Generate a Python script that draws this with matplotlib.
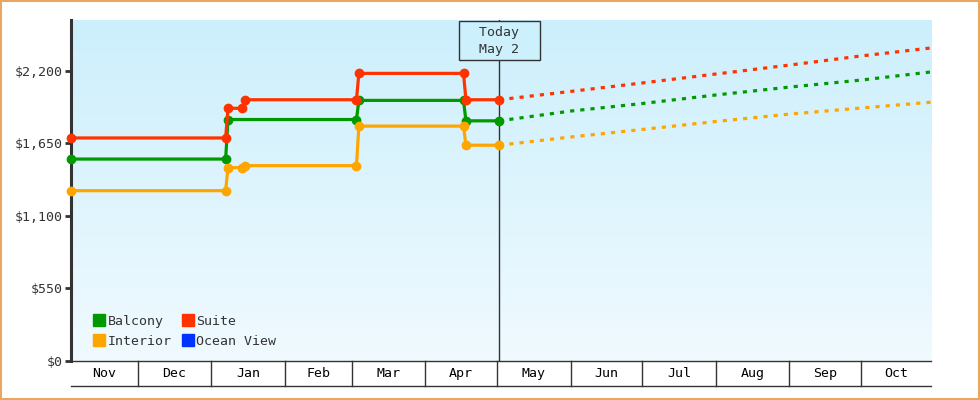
import datetime as dt

import matplotlib
matplotlib.use("Agg")
import matplotlib.pyplot as plt
import matplotlib.dates as mdates
import matplotlib.transforms as mtransforms
import numpy as np
from matplotlib.lines import Line2D
from matplotlib.patches import Rectangle

D = dt.datetime

# recorded prices (solid, with markers)
balcony_dates = [D(2022, 11, 3), D(2023, 1, 7), D(2023, 1, 8), D(2023, 3, 3), D(2023, 3, 4),
                 D(2023, 4, 17), D(2023, 4, 18), D(2023, 5, 2)]
balcony_hist = [1530, 1530, 1830, 1830, 1975, 1975, 1820, 1820]

other_dates = [D(2022, 11, 3), D(2023, 1, 7), D(2023, 1, 8), D(2023, 1, 14), D(2023, 1, 15),
               D(2023, 3, 3), D(2023, 3, 4), D(2023, 4, 17), D(2023, 4, 18), D(2023, 5, 2)]
suite_hist = [1690, 1690, 1915, 1915, 1980, 1980, 2180, 2180, 1980, 1980]
interior_hist = [1290, 1290, 1465, 1465, 1480, 1480, 1780, 1780, 1635, 1635]

# forecast (dashed)
fc_dates = [D(2023, 5, 2), D(2023, 6, 1), D(2023, 7, 1), D(2023, 8, 1), D(2023, 9, 1),
            D(2023, 10, 1), D(2023, 10, 31)]
balcony_fc = [1820, 1894, 1951, 2016, 2076, 2129, 2192]
suite_fc = [1980, 2043, 2107, 2175, 2243, 2312, 2374]
interior_fc = [1635, 1697, 1754, 1815, 1871, 1917, 1962]

yticks = [0, 550, 1100, 1650, 2200]
ytick_labels = ["$0", "$550", "$1,100", "$1,650", "$2,200"]
months = ["Nov", "Dec", "Jan", "Feb", "Mar", "Apr", "May", "Jun", "Jul", "Aug", "Sep", "Oct"]
month_starts = [D(2022, 11, 1), D(2022, 12, 1)] + [D(2023, m, 1) for m in range(1, 12)]
today = D(2023, 5, 2)

GREEN = "#009a00"
RED = "#ff3300"
ORANGE = "#ffa500"
BLUE = "#0033ff"
DARK = "#333333"
MONO = "DejaVu Sans Mono"
FS = 9.5

x0, x1 = D(2022, 11, 3), D(2023, 10, 30, 12)

fig = plt.figure(figsize=(9.8, 4), dpi=100)
ax = fig.add_axes([71 / 980, (400 - 360.7) / 400, 860 / 980, 340.7 / 400])
ax.set_xlim(x0, x1)
ax.set_ylim(0, 2585)

# background gradient
grad = np.linspace(0, 1, 256).reshape(-1, 1)
top_c = np.array([204, 239, 252]) / 255
bot_c = np.array([240, 250, 255]) / 255
img = top_c * (1 - grad[..., None]) + bot_c * grad[..., None]
img = img.reshape(256, 1, 3)
ax.imshow(img, extent=[0, 1, 0, 1], transform=ax.transAxes, aspect="auto", zorder=0)

# today line
ax.axvline(today, color=DARK, lw=1, zorder=1)

lw = 2.3
ms = 6.0
for dates, vals, c in [(balcony_dates, balcony_hist, GREEN),
                       (other_dates, interior_hist, ORANGE),
                       (other_dates, suite_hist, RED)]:
    ax.plot(dates, vals, color=c, lw=lw, marker="o", ms=ms, mec=c, zorder=3, clip_on=False)

for vals, c in [(balcony_fc, GREEN), (interior_fc, ORANGE), (suite_fc, RED)]:
    ax.plot(fc_dates, vals, color=c, lw=lw, dashes=(1.3, 1.9), zorder=2)

# today box
trans = mtransforms.blended_transform_factory(ax.transData, ax.transAxes)
ax.annotate("  Today  \n  May 2  ", xy=(mdates.date2num(today), 1.0), xycoords=trans, xytext=(0, -4.2),
            textcoords="offset points", ha="center", va="top", family=MONO, fontsize=FS,
            color=DARK, linespacing=1.4, zorder=5,
            bbox=dict(boxstyle="square,pad=0.35", fc="#ccf0fc", ec=DARK, lw=1))

# axes styling
for s in ["top", "right"]:
    ax.spines[s].set_visible(False)
ax.spines["left"].set_color(DARK)
ax.spines["left"].set_linewidth(2.2)
ax.spines["bottom"].set_color(DARK)
ax.spines["bottom"].set_linewidth(1)
ax.set_yticks(yticks)
ax.set_yticklabels(ytick_labels, family=MONO, fontsize=FS, color=DARK)
ax.tick_params(axis="y", length=4, width=2, color=DARK, pad=2)
ax.set_xticks([])

# month table under the axis
cell_h = -0.073
ax.plot([x0, x1], [cell_h, cell_h], color=DARK, lw=1, transform=trans, clip_on=False)
for m0 in month_starts[1:-1]:
    ax.plot([m0, m0], [0, cell_h], color=DARK, lw=1, transform=trans, clip_on=False)
for i, name in enumerate(months):
    a = max(mdates.date2num(month_starts[i]), mdates.date2num(x0))
    b = min(mdates.date2num(month_starts[i + 1]), mdates.date2num(x1))
    ax.text((a + b) / 2, cell_h / 2, name, transform=trans, ha="center", va="center",
            family=MONO, fontsize=FS, color="black")

# legend
handles = [Line2D([], [], ls="none", marker="s", ms=8, mfc=c, mec=c, label=l)
           for c, l in [(GREEN, "Balcony"), (ORANGE, "Interior"), (RED, "Suite"), (BLUE, "Ocean View")]]
leg = ax.legend(handles=handles, ncol=2, loc="lower left", bbox_to_anchor=(0.027, 0.037), frameon=False,
                prop=dict(family=MONO, size=FS), handlelength=0.8, handletextpad=0.2,
                columnspacing=0.85, labelspacing=0.54, borderpad=0, borderaxespad=0)
for t in leg.get_texts():
    t.set_color(DARK)

# figure border
fig.patches.append(Rectangle((0.001, 0.002), 0.998, 0.996, transform=fig.transFigure, fill=False,
                             ec="#e8a860", lw=1.5))

fig.savefig("out.png", dpi=100, facecolor="white")
